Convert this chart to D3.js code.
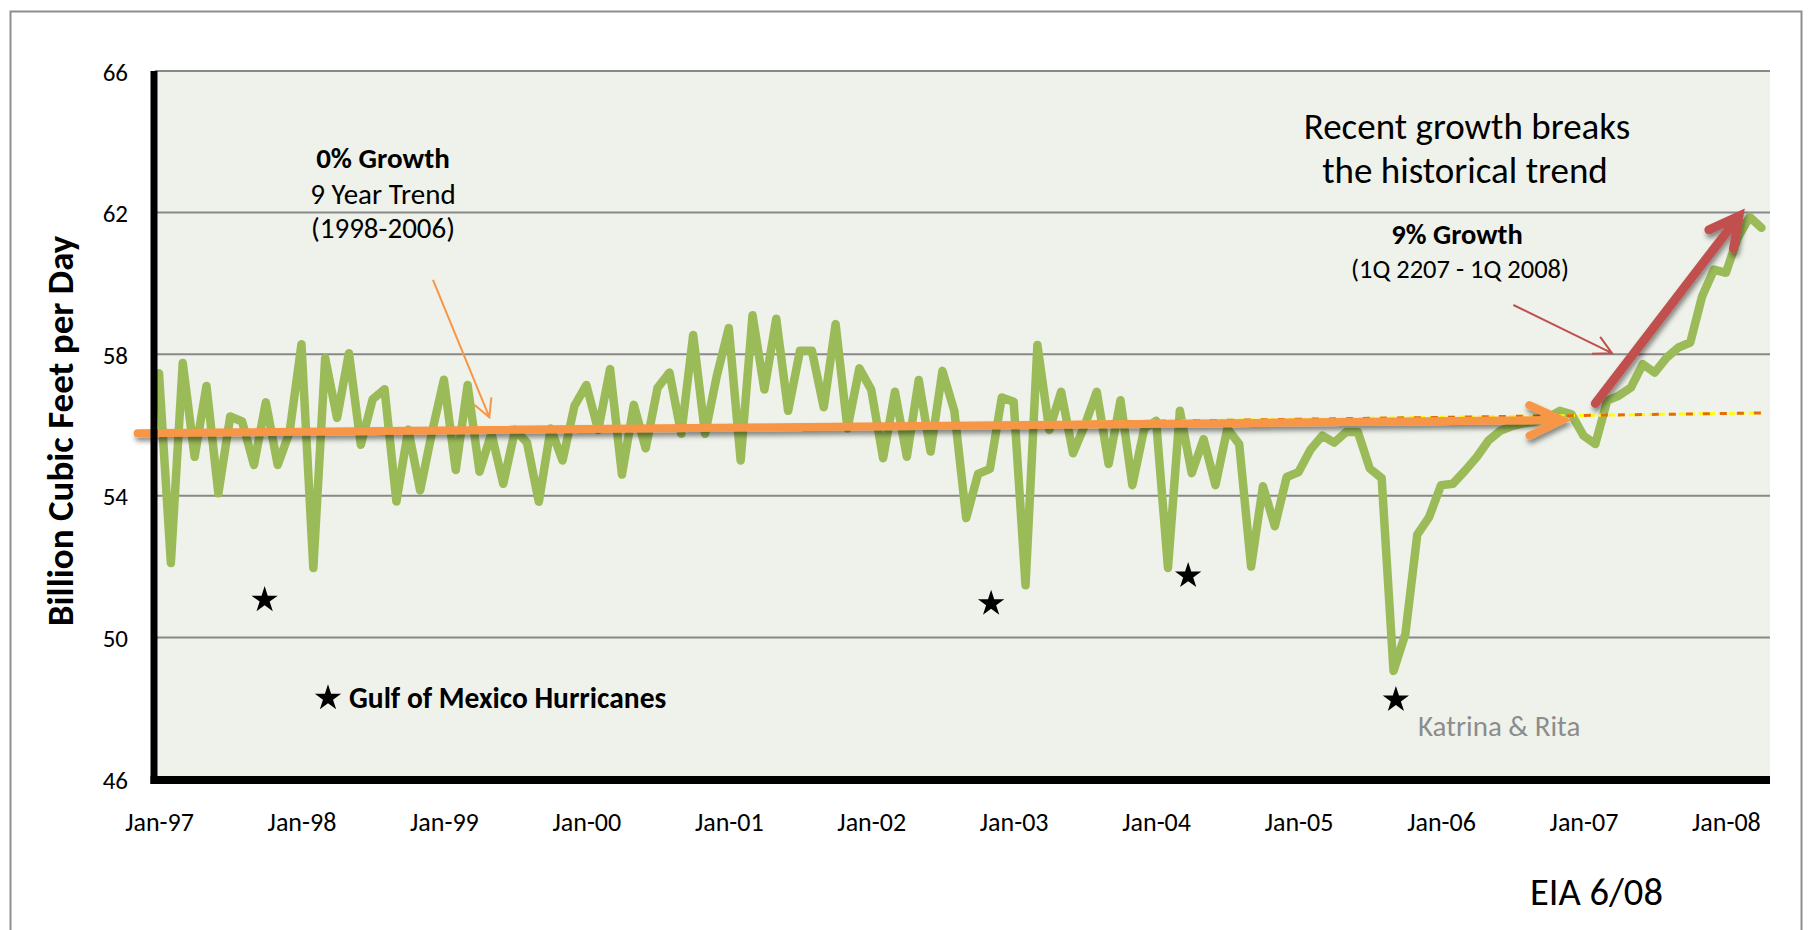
<!DOCTYPE html>
<html>
<head>
<meta charset="utf-8">
<script src="https://cdn.jsdelivr.net/npm/d3@7"></script>
<style>
  html, body { margin: 0; padding: 0; background: #ffffff; }
  svg { display: block; }
  text { font-family: Carlito, Calibri, Lato, sans-serif; }
</style>
</head>
<body>
<svg id="chart" width="1808" height="930"></svg>
<script>
// Monthly dry gas production, Jan-97 .. Apr-08 (Bcf/d)
const startMonth = "Jan-97";
const production = [
  57.46, 52.10, 57.75, 55.10, 57.10, 54.07, 56.24, 56.10, 54.87, 56.64, 54.87, 55.80,
  58.28, 51.96, 57.89, 56.20, 58.03, 55.44, 56.73, 57.01, 53.84, 55.87, 54.15, 55.80,
  57.28, 54.73, 57.13, 54.68, 55.77, 54.34, 55.87, 55.50, 53.83, 55.90, 55.00, 56.54,
  57.13, 55.86, 57.58, 54.60, 56.57, 55.34, 57.05, 57.48, 55.75, 58.54, 55.75, 57.40,
  58.74, 55.00, 59.10, 57.00, 59.00, 56.40, 58.10, 58.10, 56.50, 58.85, 55.90, 57.60,
  57.00, 55.06, 56.94, 55.10, 57.27, 55.25, 57.53, 56.40, 53.37, 54.62, 54.76, 56.78,
  56.66, 51.47, 58.26, 55.86, 56.94, 55.20, 56.00, 56.94, 54.90, 56.70, 54.30, 55.90,
  56.12, 51.96, 56.40, 54.64, 55.60, 54.30, 55.90, 55.46, 52.00, 54.27, 53.14, 54.53,
  54.67, 55.30, 55.70, 55.50, 55.80, 55.80, 54.77, 54.50, 49.05, 50.10, 52.90, 53.40,
  54.30, 54.34, 54.70, 55.09, 55.56, 55.84, 55.97, 56.05, 56.10, 56.20, 56.40, 56.30,
  55.70, 55.46, 56.69, 56.83, 57.06, 57.72, 57.48, 57.90, 58.19, 58.33, 59.64, 60.39,
  60.30, 61.29, 61.88, 61.57
];

// Axis ticks
const yTicks = [46, 50, 54, 58, 62, 66];
const xTickLabels = ["Jan-97", "Jan-98", "Jan-99", "Jan-00", "Jan-01", "Jan-02",
                     "Jan-03", "Jan-04", "Jan-05", "Jan-06", "Jan-07", "Jan-08"];

// Trend lines and arrows, in (month index, Bcf/d)
const trendLine   = [{ m: 0, v: 55.72 }, { m: 135, v: 56.34 }];     // 9-year linear trend
const flatArrow   = [{ m: -1.8, v: 55.77 }, { m: 118.2, v: 56.14 }]; // 0% growth arrow
const growthArrow = [{ m: 121.0, v: 56.61 }, { m: 133.1, v: 61.9 }]; // 9% growth arrow
const flatCallout   = [{ m: 23.08, v: 60.1 }, { m: 27.83, v: 56.22 }];
const growthCallout = [{ m: 114.1, v: 59.39 }, { m: 122.4, v: 58.03 }];

// Gulf of Mexico hurricane markers
const hurricanes = [
  { m: 8.9,   v: 51.1 },
  { m: 70.1,  v: 51.0 },
  { m: 86.7,  v: 51.78 },
  { m: 104.2, v: 48.28 }
];

const FONT = "Carlito, Calibri, Lato, sans-serif";
const svg = d3.select("#chart");

const plot = { left: 155, right: 1770, top: 71, bottom: 779 };
const x = d3.scaleLinear().domain([0, 135]).range([159, 1761.5]);
const y = d3.scaleLinear().domain([46, 66]).range([779, 71]);

// Drop shadow used by the big arrows
const defs = svg.append("defs");
const f = defs.append("filter").attr("id", "shadow")
  .attr("x", "-20%").attr("y", "-50%").attr("width", "140%").attr("height", "200%");
f.append("feDropShadow").attr("dx", 1.5).attr("dy", 4).attr("stdDeviation", 2.5)
  .attr("flood-color", "#000").attr("flood-opacity", 0.45);

// Outer frame
svg.append("rect").attr("x", 10.5).attr("y", 11.5).attr("width", 1791).attr("height", 1000)
  .attr("fill", "#fff").attr("stroke", "#8e8e8e").attr("stroke-width", 2);

// Plot background
svg.append("rect")
  .attr("x", plot.left).attr("y", plot.top)
  .attr("width", plot.right - plot.left).attr("height", plot.bottom - plot.top)
  .attr("fill", "#eff2ea");

// Horizontal gridlines
svg.append("g").selectAll("line").data(yTicks.filter(t => t > 46)).join("line")
  .attr("x1", plot.left).attr("x2", plot.right)
  .attr("y1", d => y(d)).attr("y2", d => y(d))
  .attr("stroke", "#888888").attr("stroke-width", 2);

// Y axis labels
const yAxis = d3.axisLeft(y).tickValues(yTicks).tickSize(0).tickPadding(0);
svg.append("g").attr("transform", "translate(128,0)").call(yAxis)
  .call(g => g.select(".domain").remove())
  .selectAll("text")
  .attr("font-size", 25).attr("font-family", FONT)
  .attr("fill", "#000").attr("dy", "0.36em");

// X axis labels (one per January)
const xAxis = d3.axisBottom(x)
  .tickValues(xTickLabels.map((_, i) => i * 12))
  .tickFormat((d, i) => xTickLabels[i])
  .tickSize(0).tickPadding(0);
svg.append("g").attr("transform", "translate(0,813)").call(xAxis)
  .call(g => g.select(".domain").remove())
  .selectAll("text")
  .attr("font-size", 26).attr("font-family", FONT)
  .attr("fill", "#000").attr("dy", "0.71em");

// Production series
const line = d3.line().x((d, i) => x(i)).y(d => y(d));
svg.append("path").datum(production)
  .attr("d", line)
  .attr("fill", "none").attr("stroke", "#9bbb59").attr("stroke-width", 8.5)
  .attr("stroke-linejoin", "round").attr("stroke-linecap", "round");

// 9-year trend (dashed yellow/orange)
const pline = d3.line().x(d => x(d.m)).y(d => y(d.v));
svg.append("path").datum(trendLine).attr("d", pline)
  .attr("stroke", "#ffff00").attr("stroke-width", 3).attr("fill", "none")
  .attr("stroke-dasharray", "6 4");
svg.append("path").datum(trendLine).attr("d", pline)
  .attr("stroke", "#e46c0a").attr("stroke-width", 3).attr("fill", "none")
  .attr("stroke-dasharray", "7 10").attr("stroke-dashoffset", 3);

// Arrow with an open chevron head
function arrow(g, pts, color, width, headLen, halfAngle, filter) {
  const x1 = x(pts[0].m), y1 = y(pts[0].v), x2 = x(pts[1].m), y2 = y(pts[1].v);
  const a = Math.atan2(y1 - y2, x1 - x2);
  const h1 = [x2 + headLen * Math.cos(a + halfAngle), y2 + headLen * Math.sin(a + halfAngle)];
  const h2 = [x2 + headLen * Math.cos(a - halfAngle), y2 + headLen * Math.sin(a - halfAngle)];
  const grp = g.append("g");
  if (filter) grp.attr("filter", filter);
  grp.append("path")
    .attr("d", `M${x1},${y1}L${x2},${y2}M${h1[0]},${h1[1]}L${x2},${y2}L${h2[0]},${h2[1]}`)
    .attr("fill", "none").attr("stroke", color).attr("stroke-width", width)
    .attr("stroke-linecap", width > 3 ? "round" : "butt")
    .attr("stroke-linejoin", "miter");
}

const ann = svg.append("g");
arrow(ann, flatArrow, "#f79646", 8, 36, 25 * Math.PI / 180, "url(#shadow)");
arrow(ann, growthArrow, "#c0504d", 9, 33, 28 * Math.PI / 180, "url(#shadow)");
arrow(ann, flatCallout, "#f79646", 2, 20, 28 * Math.PI / 180, null);
arrow(ann, growthCallout, "#c0504d", 2, 20, 28 * Math.PI / 180, null);

// Hurricane stars
const star = d3.symbol().type(d3.symbolStar).size(215);
svg.append("g").selectAll("path").data(hurricanes).join("path")
  .attr("d", star)
  .attr("transform", d => `translate(${x(d.m)},${y(d.v) + 1.5})`)
  .attr("fill", "#000");

// Axis lines
svg.append("line").attr("x1", 154).attr("x2", 154).attr("y1", plot.top).attr("y2", 784)
  .attr("stroke", "#000").attr("stroke-width", 7);
svg.append("line").attr("x1", 150.5).attr("x2", plot.right).attr("y1", 780).attr("y2", 780)
  .attr("stroke", "#000").attr("stroke-width", 8);

// Y axis title
svg.append("text")
  .attr("transform", "translate(73,431) rotate(-90)")
  .attr("text-anchor", "middle")
  .attr("font-size", 37).attr("font-weight", "bold").attr("fill", "#000")
  .text("Billion Cubic Feet per Day");

// Annotation text
const t = svg.append("g");
function label(txt, px, py, size, opts = {}) {
  t.append("text").attr("x", px).attr("y", py)
    .attr("text-anchor", opts.anchor || "middle")
    .attr("font-size", size)
    .attr("font-weight", opts.bold ? "bold" : "normal")
    .attr("fill", opts.color || "#000")
    .text(txt);
}
label("0% Growth", 383, 168, 29, { bold: true });
label("9 Year Trend", 383, 204, 29);
label("(1998-2006)", 383, 238, 29);
label("Recent growth breaks", 1467, 139, 37);
label("the historical trend", 1465, 183, 37);
label("9% Growth", 1457, 244, 28.5, { bold: true });
label("(1Q 2207 - 1Q 2008)", 1460, 278, 26.5);
label("Gulf of Mexico Hurricanes", 349, 708, 29.5, { bold: true, anchor: "start" });
label("Katrina & Rita", 1418, 736, 29, { anchor: "start", color: "#8c8c8c" });
label("EIA 6/08", 1530, 905, 38.5, { anchor: "start" });

// Legend star
svg.append("path").attr("d", star).attr("transform", "translate(328,698)").attr("fill", "#000");
</script>
</body>
</html>
